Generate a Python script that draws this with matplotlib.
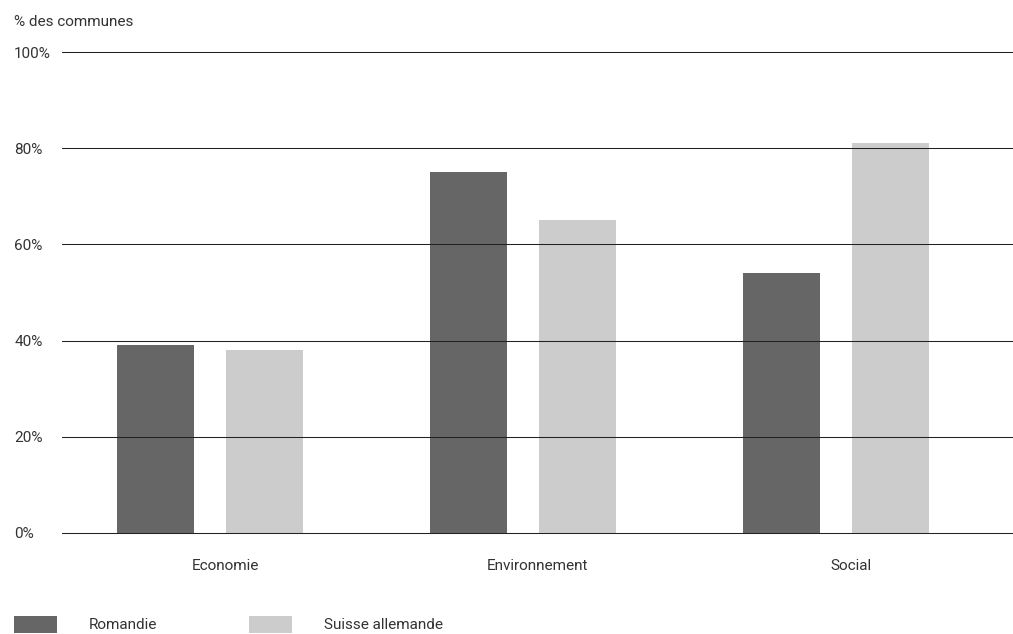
import numpy as np
import matplotlib
matplotlib.use("Agg")
import matplotlib.pyplot as plt
import matplotlib.transforms as mtransforms

plt.rcParams["font.family"] = ["Roboto", "DejaVu Sans"]

categories = ["Economie", "Environnement", "Social"]
romandie = [39, 75, 54]
suisse_allemande = [38, 65, 81]
series_names = ["Romandie", "Suisse allemande"]
yticks = [0, 20, 40, 60, 80, 100]
ytick_labels = ["0%", "20%", "40%", "60%", "80%", "100%"]

text_color = "#333333"
dark = "#666666"
light = "#cccccc"

fig = plt.figure(figsize=(10.13, 6.34), dpi=100)
ax = fig.add_axes([62 / 1013, 101 / 634, 951 / 1013, 481 / 634])

x = np.arange(len(categories))
width = 0.246
offset = 0.174
ax.bar(x - offset, romandie, width, color=dark, label=series_names[0], zorder=1)
ax.bar(x + offset, suisse_allemande, width, color=light, label=series_names[1], zorder=1)

# grid lines drawn over the bars, as in the original
for y in yticks:
    ax.axhline(y, color="#222222", lw=0.75, zorder=3, clip_on=False)

ax.set_xlim(-0.473, 2.566)
ax.set_ylim(0, 100)

for s in ax.spines.values():
    s.set_visible(False)

ax.set_yticks(yticks)
ax.set_yticklabels(ytick_labels)
ax.tick_params(axis="y", length=0, pad=34.5, labelsize=11, labelcolor=text_color)
for lab in ax.get_yticklabels():
    lab.set_horizontalalignment("left")

ax.set_xticks(x)
ax.set_xticklabels(categories)
ax.tick_params(axis="x", length=0, pad=19, labelsize=11, labelcolor=text_color)
shift = mtransforms.ScaledTranslation(15 / 100, 0, fig.dpi_scale_trans)
for lab in ax.get_xticklabels():
    lab.set_transform(lab.get_transform() + shift)

fig.text(14 / 1013, 1 - 22 / 634, "% des communes", fontsize=11, color=text_color,
         ha="left", va="center")

leg = fig.legend(loc="upper left", bbox_to_anchor=(14 / 1013, 1 - 616 / 634),
                 ncol=2, frameon=False, borderpad=0, borderaxespad=0,
                 handlelength=2.8, handleheight=1.3, handletextpad=2.1,
                 columnspacing=6.0, fontsize=11)
for t in leg.get_texts():
    t.set_color(text_color)

fig.savefig("out.png", dpi=100)
